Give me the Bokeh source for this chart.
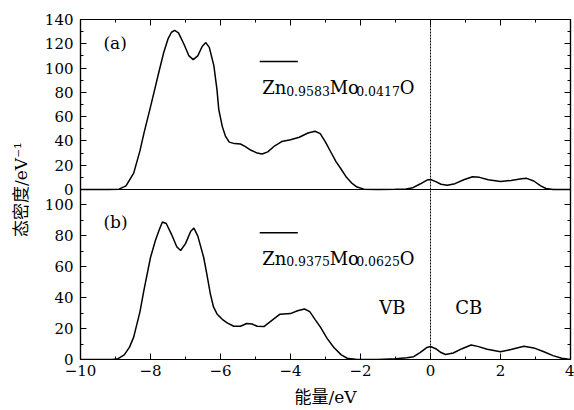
from bokeh.plotting import figure
from bokeh.models import (Range1d, LinearAxis, FixedTicker, SingleIntervalTicker,
                          CustomJSTickFormatter, Span)
from bokeh.core.properties import value
from bokeh.embed import file_html
from bokeh.resources import INLINE

# ---------------- data ----------------
energy_a = [-10.0, -9.2, -8.9, -8.7, -8.48, -8.3, -8.19, -8.0, -7.9, -7.75, -7.62, -7.5,
            -7.4, -7.31, -7.2, -7.05, -6.9, -6.78, -6.65, -6.52, -6.42, -6.32, -6.19,
            -6.1, -6.05, -5.95, -5.86, -5.75, -5.6, -5.43, -5.3, -5.14, -4.95, -4.81,
            -4.65, -4.45, -4.25, -4.0, -3.75, -3.5, -3.3, -3.15, -3.0, -2.86, -2.7,
            -2.57, -2.4, -2.24, -2.1, -1.9, -1.5, -1.0, -0.7, -0.5, -0.3, -0.1, 0.0,
            0.15, 0.3, 0.48, 0.7, 0.95, 1.2, 1.4, 1.65, 2.0, 2.3, 2.6, 2.75, 2.95,
            3.15, 3.3, 3.5, 4.0]
dos_a = [0, 0, 0.3, 3, 13.5, 32, 46, 68, 80, 98, 113, 124,
         129.5, 131, 129, 120, 110, 107, 110, 118, 121, 117, 102,
         82, 66, 52, 44, 39, 37.8, 37.5, 35.5, 32.5, 30, 29.3,
         31, 36, 39.5, 41, 43, 46.5, 48, 46, 39, 31.5, 23,
         17.5, 10, 5, 2, 0.3, 0, 0.2, 0.5, 1.5, 4.5, 7.8, 8.2,
         6.5, 4.3, 3.5, 4.8, 8, 10.5, 10, 8, 6.5, 7.5, 8.8, 9.2, 7,
         3, 0.8, 0, 0]

energy_b = [-10.0, -9.1, -8.95, -8.75, -8.6, -8.48, -8.3, -8.19, -8.0, -7.86, -7.75,
            -7.66, -7.55, -7.4, -7.25, -7.14, -7.0, -6.85, -6.76, -6.65, -6.48, -6.38,
            -6.29, -6.2, -6.1, -5.95, -5.8, -5.62, -5.43, -5.25, -5.1, -4.95, -4.76,
            -4.55, -4.3, -4.0, -3.8, -3.6, -3.45, -3.3, -3.14, -2.95, -2.76, -2.55,
            -2.38, -2.1, -1.5, -1.0, -0.67, -0.48, -0.3, -0.1, 0.0, 0.15, 0.3, 0.43,
            0.65, 0.9, 1.16, 1.35, 1.62, 2.0, 2.3, 2.67, 2.95, 3.24, 3.5, 3.75, 4.0]
dos_b = [0, 0, 0.3, 3, 8, 14.5, 31, 44.5, 66, 77, 84,
         89, 88, 81, 73, 70.5, 75, 83, 85, 80, 66, 54,
         42.5, 34, 29.5, 26, 23.5, 21.5, 21.5, 23.3, 23, 21.5, 21.3,
         25, 29.3, 29.7, 31.5, 32.7, 31, 26, 20.8, 13.5, 7.8, 3,
         0.8, 0, 0, 0.5, 1.2, 1.8, 4.5, 7.8, 8.4, 7, 4.5, 3.2,
         4.2, 7, 9.4, 8.5, 6.6, 5, 6.5, 8.6, 7.5, 5, 2.5, 0.8, 0]

top_ticks = [0, 20, 40, 60, 80, 100, 120, 140]
top_minor = [10, 30, 50, 70, 90, 110, 130]
bottom_ticks = [0, 20, 40, 60, 80, 100]
bottom_minor = [10, 30, 50, 70, 90, 110]
panel_labels = ["(a)", "(b)"]
band_labels = ["VB", "CB"]
formula_a = ["Zn", "0.9583", "Mo", "0.0417", "O"]
formula_b = ["Zn", "0.9375", "Mo", "0.0625", "O"]
x_label = "能量/eV"
y_label = "态密度/eV⁻¹"

# ---------------- layout constants ----------------
TOP_MAX = 140
BOT_MAX = 110
SERIF = "DejaVu Serif"
MIXED = "DejaVu Serif, Noto Sans CJK SC"

p = figure(width=574, height=410, x_range=Range1d(-10, 4),
           y_range=Range1d(0, 2 * BOT_MAX),
           x_axis_type=None, y_axis_type=None,
           output_backend="svg", toolbar_location=None,
           min_border_left=80, min_border_right=4, min_border_top=19,
           min_border_bottom=51)
p.extra_y_ranges = {"top": Range1d(-TOP_MAX, TOP_MAX)}
p.outline_line_color = "black"
p.outline_line_width = 1.2
p.background_fill_color = "white"
p.border_fill_color = "white"

scale = BOT_MAX / TOP_MAX
y_major = bottom_ticks + [BOT_MAX + t * scale for t in top_ticks]
y_minor = bottom_minor + [BOT_MAX + t * scale for t in top_minor]
y_ticker = FixedTicker(ticks=y_major, minor_ticks=y_minor)
y_fmt = CustomJSTickFormatter(args=dict(b=BOT_MAX, t=TOP_MAX), code="""
    if (tick < b - 0.01) { return tick.toFixed(0); }
    return ((tick - b) * t / b).toFixed(0);
""")
x_fmt = CustomJSTickFormatter(code="return tick < 0 ? '−' + Math.abs(tick) : String(tick);")
blank_fmt = CustomJSTickFormatter(code="return '';")


def style_axis(ax, labels=True):
    ax.axis_line_color = "black"
    ax.axis_line_width = 1.2
    ax.major_tick_in = 6
    ax.major_tick_out = 0
    ax.minor_tick_in = 3
    ax.minor_tick_out = 0
    ax.major_tick_line_color = "black"
    ax.minor_tick_line_color = "black"
    if labels:
        ax.major_label_text_font = SERIF
        ax.major_label_text_font_size = "15px"
        ax.major_label_text_color = "black"
        ax.axis_label_text_color = "black"
    else:
        ax.major_label_standoff = 0


left = LinearAxis(ticker=y_ticker, formatter=y_fmt, axis_label=y_label)
style_axis(left)
left.major_label_standoff = 7
left.axis_label_text_font = MIXED
left.axis_label_text_font_size = "17px"
left.axis_label_text_font_style = "normal"
left.axis_label_standoff = 11
p.add_layout(left, "left")

right = LinearAxis(ticker=y_ticker, formatter=blank_fmt)
style_axis(right, labels=False)
p.add_layout(right, "right")

bottom = LinearAxis(ticker=SingleIntervalTicker(interval=2, num_minor_ticks=2),
                    formatter=x_fmt, axis_label=x_label)
style_axis(bottom)
bottom.major_label_standoff = 5
bottom.axis_label_text_font = MIXED
bottom.axis_label_text_font_size = "17px"
bottom.axis_label_text_font_style = "normal"
bottom.axis_label_standoff = 8
p.add_layout(bottom, "below")

top = LinearAxis(ticker=SingleIntervalTicker(interval=2, num_minor_ticks=2), formatter=blank_fmt)
style_axis(top, labels=False)
p.add_layout(top, "above")

# panel divider and Fermi level
p.add_layout(Span(location=BOT_MAX, dimension="width", line_color="black", line_width=1.2))
p.add_layout(Span(location=0, dimension="height", line_color="black", line_width=1,
                  line_dash="2 1"))

# curves
p.line(energy_a, dos_a, y_range_name="top", line_color="black", line_width=1.5)
p.line(energy_b, dos_b, line_color="black", line_width=1.5)

# panel labels
p.text(x=[-9.01], y=[120.6], text=[panel_labels[0]], y_range_name="top",
       text_font=value(SERIF), text_font_size="17px", text_align="center",
       text_baseline="middle", text_color="black")
p.text(x=[-9.0], y=[89], text=[panel_labels[1]],
       text_font=value(SERIF), text_font_size="17px", text_align="center",
       text_baseline="middle", text_color="black")

# band labels
p.text(x=[-1.09, 1.09], y=[33.8, 33.8], text=band_labels,
       text_font=value(SERIF), text_font_size="18px", text_align="center",
       text_baseline="middle", text_color="black")

# legends (line sample above formula)
LEG_X = [-4.88, -3.79]
p.line(LEG_X, [105.4, 105.4], y_range_name="top", line_color="black", line_width=1.5)
p.line(LEG_X, [82.0, 82.0], line_color="black", line_width=1.5)

offsets = [0, 24, 67.5, 94, 137.5]
sizes = ["18px", "12.5px", "18px", "12.5px", "18px"]
dys = [0, 3, 0, 3, 0]


def formula(pieces, x, y, rng):
    for piece, off, sz, dy in zip(pieces, offsets, sizes, dys):
        kw = dict(y_range_name=rng) if rng else {}
        p.text(x=[x], y=[y], text=[piece], x_offset=off, y_offset=dy,
               text_font=value(SERIF), text_font_size=sz, text_align="left",
               text_baseline="alphabetic", text_color="black", **kw)


formula(formula_a, -4.81, 83.7, "top")
formula(formula_b, -4.81, 65.5, None)

open("out.html", "w").write(file_html(p, INLINE))
